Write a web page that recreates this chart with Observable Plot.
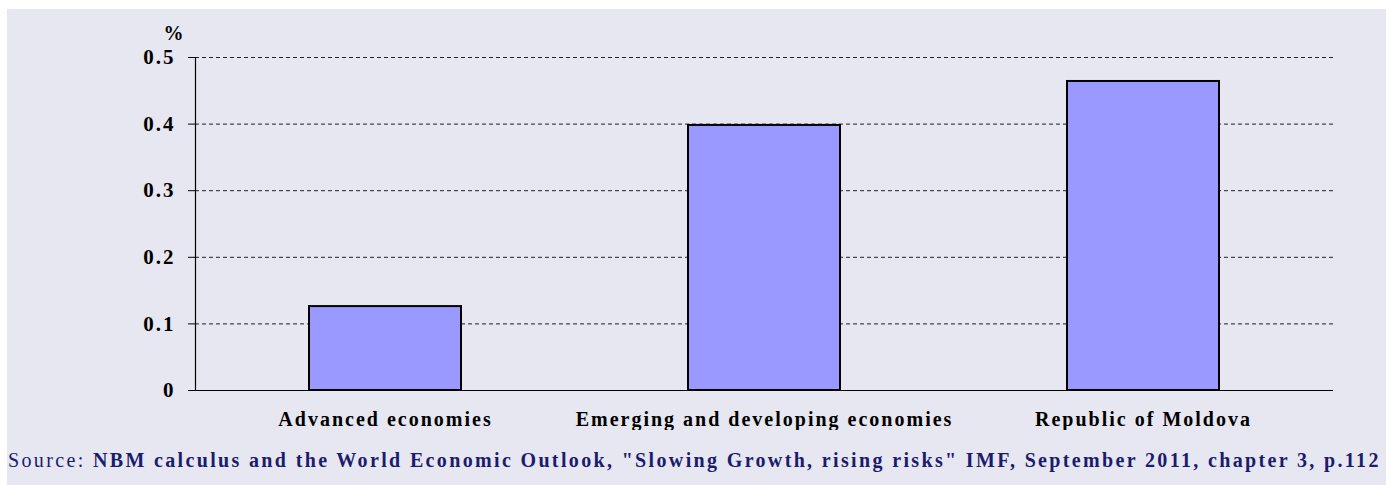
<!DOCTYPE html>
<html>
<head>
<meta charset="utf-8">
<script src="https://cdn.jsdelivr.net/npm/d3@7"></script>
<script src="https://cdn.jsdelivr.net/npm/@observablehq/plot@0.6"></script>
<style>
  html, body { margin: 0; padding: 0; background: #ffffff; }
  #wrap { position: relative; width: 1386px; height: 485px; overflow: hidden; }
  #bg { position: absolute; left: 7px; top: 9px; width: 1379px; height: 476px; background: #e7e7f1; }
  #chart { position: absolute; left: 0; top: 0; }
  #source { position: absolute; left: 8px; top: 449px; white-space: nowrap;
    font-family: "Liberation Serif", "Times New Roman", serif; font-size: 20px; color: #1c1c6e; letter-spacing: 2.35px; }
  #source b { font-weight: bold; }
</style>
</head>
<body>
<div id="wrap">
  <div id="bg"></div>
  <div id="chart"></div>
  <div id="source">Source: <b>NBM calculus and the World Economic Outlook, "Slowing Growth, rising risks" IMF, September 2011, chapter 3, p.112</b></div>
</div>
<script>
const categories = ["Advanced economies", "Emerging and developing economies", "Republic of Moldova"];
const values = [0.126, 0.398, 0.464];
const yTicks = [0, 0.1, 0.2, 0.3, 0.4, 0.5];
const yGrid = [0.1, 0.2, 0.3, 0.4, 0.5];
const unitLabel = "%";

const data = categories.map((c, i) => ({category: c, value: values[i]}));

const fontFamily = '"Liberation Serif", "Times New Roman", serif';

const chart = Plot.plot({
  width: 1386,
  height: 430,
  marginLeft: 195,
  marginRight: 53,
  marginTop: 57,
  marginBottom: 40,
  style: {background: "transparent", fontFamily, fontSize: "20px", fontWeight: "bold", color: "#000", letterSpacing: "2px"},
  x: {domain: categories, paddingInner: 0.6, paddingOuter: 0.3, label: null},
  y: {domain: [0, 0.5], label: null},
  marks: [
    Plot.ruleY(yGrid, {stroke: "#222", strokeWidth: 1, strokeDasharray: "4,3"}),
    Plot.barY(data, {x: "category", y: "value", fill: "#9999ff", stroke: "#000", strokeWidth: 2}),
    Plot.frame({anchor: "left", stroke: "#000", strokeWidth: 1.2}),
    Plot.ruleY([0], {stroke: "#000", strokeWidth: 1.2}),
    Plot.axisY({ticks: yTicks, tickFormat: d => d === 0 ? "0" : d3.format(".1f")(d), tickSize: 7, tickPadding: 13, label: null, fontSize: 21, fontWeight: "bold"}),
    Plot.axisX({tickSize: 0, tickPadding: 21, label: null, fontSize: 20, fontWeight: "bold"}),
    Plot.text([unitLabel], {frameAnchor: "top-left", dx: -32, dy: -32, text: d => d, fontSize: 20, fontWeight: "bold"})
  ]
});
document.getElementById("chart").appendChild(chart);
</script>
</body>
</html>
